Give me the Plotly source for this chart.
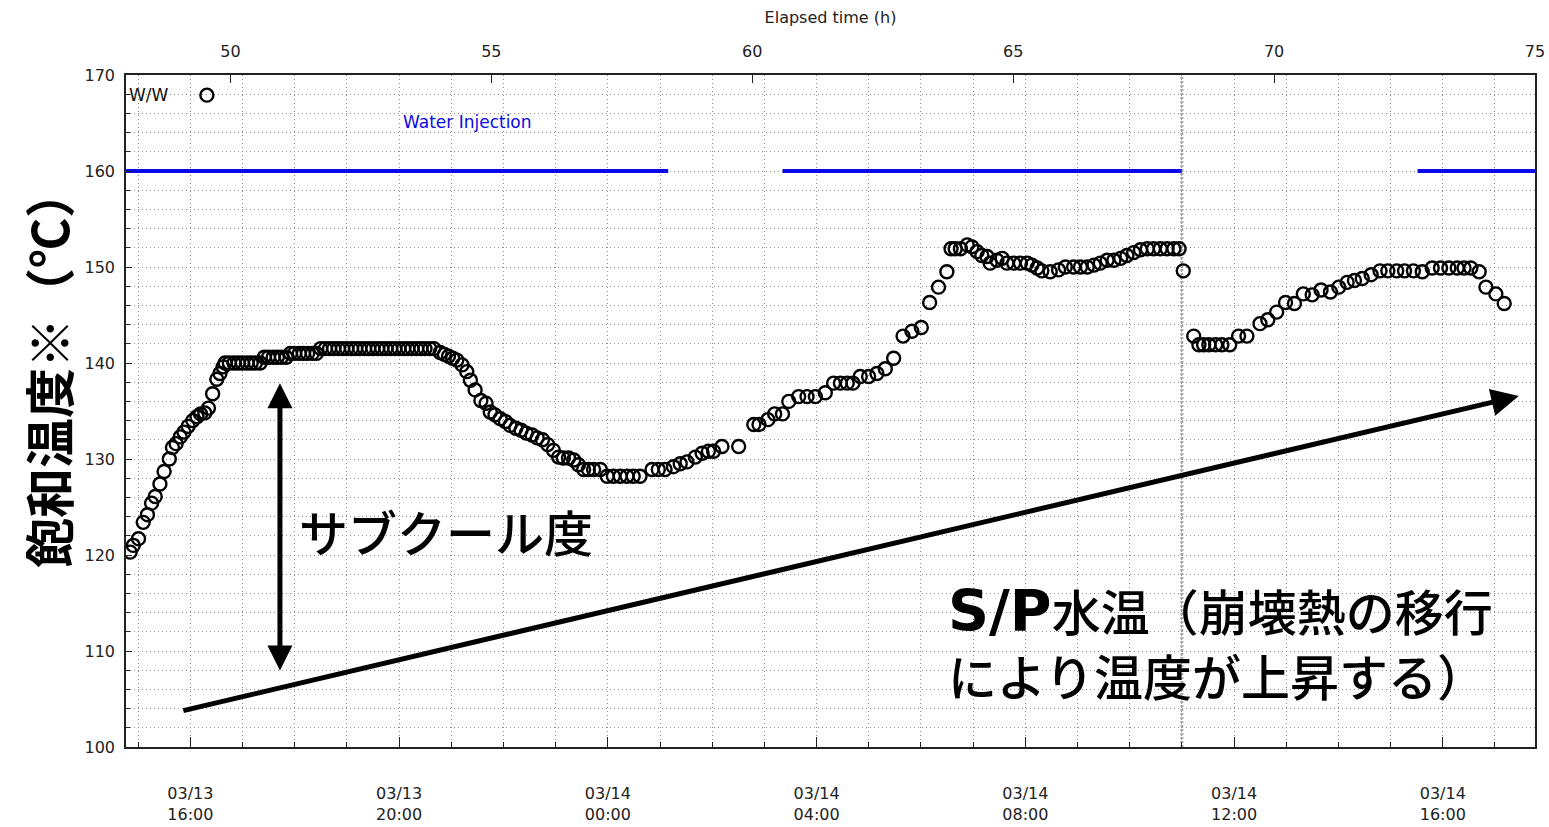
import pandas as pd
import plotly.graph_objects as go

# Reference instant for elapsed time (h = 0)
T0 = pd.Timestamp("2011-03-11 14:46")

# Saturation temperature samples: elapsed hours and °C
elapsed_h = [
    48.08, 48.14, 48.24, 48.33, 48.41, 48.49, 48.56, 48.65, 48.73, 48.83,
    48.89, 48.96, 49.04, 49.11, 49.19, 49.28, 49.36, 49.43, 49.51, 49.58,
    49.66, 49.74, 49.80, 49.86,
    49.90, 49.98, 50.07, 50.15, 50.23, 50.32, 50.40, 50.48, 50.57,
    50.65, 50.73, 50.82, 50.90, 50.98, 51.07,
    51.15, 51.23, 51.32, 51.40, 51.48, 51.57, 51.65,
    51.73, 51.82, 51.90, 51.98, 52.07, 52.15, 52.23, 52.32, 52.40, 52.48,
    52.57, 52.65, 52.73, 52.82, 52.90, 52.98, 53.07, 53.15, 53.23, 53.32,
    53.40, 53.48, 53.57, 53.65, 53.73, 53.82, 53.90,
    54.02, 54.10, 54.18, 54.26, 54.34, 54.44, 54.53, 54.60, 54.69, 54.80,
    54.90, 54.98, 55.07, 55.17, 55.27, 55.36, 55.47, 55.57, 55.67, 55.78,
    55.88, 55.98, 56.08, 56.19, 56.29, 56.38, 56.48, 56.58, 56.67, 56.77,
    56.86, 56.96, 57.09, 57.22, 57.34, 57.47, 57.60, 57.72, 57.85, 58.08,
    58.20, 58.33, 58.49, 58.62, 58.75, 58.91, 59.04, 59.16, 59.26, 59.42,
    59.74, 60.03, 60.13, 60.30, 60.43, 60.58, 60.70, 60.89, 61.05, 61.21,
    61.40, 61.56, 61.69, 61.82, 61.93, 62.07, 62.23, 62.39, 62.55, 62.71,
    62.89, 63.06, 63.24, 63.40, 63.57, 63.73, 63.81, 63.89, 63.99, 64.12,
    64.21, 64.31, 64.40, 64.50, 64.56, 64.69, 64.79, 64.88, 65.01, 65.14,
    65.27, 65.36, 65.46, 65.55, 65.71, 65.87, 66.00, 66.16, 66.29, 66.42,
    66.55, 66.67, 66.80, 66.93, 67.06, 67.18, 67.31, 67.44, 67.57, 67.69,
    67.82, 67.95, 68.08, 68.18, 68.26, 68.46, 68.56, 68.65, 68.75, 68.88,
    69.00, 69.15, 69.32, 69.48, 69.73, 69.88, 70.05, 70.22, 70.39, 70.56,
    70.73, 70.90, 71.08, 71.24, 71.40, 71.54, 71.69, 71.86, 72.03, 72.18,
    72.35, 72.50, 72.67, 72.84, 73.03, 73.19, 73.35, 73.51, 73.64, 73.77,
    73.93, 74.06, 74.25, 74.41,
]
sat_temp = [
    120.3, 121.0, 121.7, 123.4, 124.2, 125.4, 126.1, 127.4, 128.7, 130.0,
    131.2, 131.6, 132.3, 132.8, 133.4, 134.0, 134.4, 134.7, 134.8, 135.3,
    136.8, 138.3, 138.9, 139.6,
    140.0, 140.0, 140.0, 140.0, 140.0, 140.0, 140.0, 140.0, 140.0,
    140.6, 140.6, 140.6, 140.6, 140.6, 140.6,
    141.0, 141.0, 141.0, 141.0, 141.0, 141.0, 141.0,
    141.5, 141.5, 141.5, 141.5, 141.5, 141.5, 141.5, 141.5, 141.5, 141.5,
    141.5, 141.5, 141.5, 141.5, 141.5, 141.5, 141.5, 141.5, 141.5, 141.5,
    141.5, 141.5, 141.5, 141.5, 141.5, 141.5, 141.5,
    141.1, 140.9, 140.7, 140.5, 140.3, 139.8, 139.1, 138.2, 137.2, 136.1,
    135.8, 134.9, 134.6, 134.2, 133.9, 133.5, 133.2, 133.0, 132.7, 132.5,
    132.2, 132.0, 131.5, 130.9, 130.2, 130.1, 130.1, 129.9, 129.4, 128.9,
    128.9, 128.9, 128.9, 128.2, 128.2, 128.2, 128.2, 128.2, 128.2, 128.9,
    128.9, 128.9, 129.2, 129.5, 129.7, 130.2, 130.6, 130.8, 130.8, 131.3,
    131.3, 133.6, 133.6, 134.1, 134.7, 134.7, 136.0, 136.5, 136.5, 136.5,
    136.9, 137.9, 137.9, 137.9, 137.9, 138.6, 138.6, 138.9, 139.4, 140.5,
    142.8, 143.3, 143.7, 146.3, 147.9, 149.5, 151.9, 151.9, 151.9, 152.3,
    152.1, 151.6, 151.2, 151.1, 150.4, 150.7, 150.9, 150.4, 150.4, 150.4,
    150.4, 150.2, 149.9, 149.6, 149.5, 149.7, 150.0, 150.0, 150.0, 150.0,
    150.2, 150.4, 150.7, 150.7, 150.9, 151.2, 151.5, 151.8, 151.9, 151.9,
    151.9, 151.9, 151.9, 151.9, 149.6, 142.8, 141.9, 141.9, 141.9, 141.9,
    141.9, 141.9, 142.8, 142.8, 144.1, 144.5, 145.3, 146.3, 146.2, 147.2,
    147.1, 147.6, 147.4, 147.9, 148.4, 148.6, 148.8, 149.2, 149.6, 149.6,
    149.6, 149.6, 149.6, 149.5, 149.9, 149.9, 149.9, 149.9, 149.9, 149.9,
    149.5, 147.9, 147.2, 146.2,
]

# Water injection periods (elapsed hours), drawn as a bar at 160 °C
INJ_START = [48.0, 60.58, 72.75]
INJ_END = [58.39, 68.23, 75.0]
INJ_LEVEL = 160

# Clock-time ticks on the bottom axis
DATE_TICKS = ["2011-03-13 16:00", "2011-03-13 20:00", "2011-03-14 00:00",
              "2011-03-14 04:00", "2011-03-14 08:00", "2011-03-14 12:00",
              "2011-03-14 16:00"]
DATE_LABELS = ["03/13<br>16:00", "03/13<br>20:00", "03/14<br>00:00",
               "03/14<br>04:00", "03/14<br>08:00", "03/14<br>12:00",
               "03/14<br>16:00"]
FIRST_HOUR = "2011-03-13 15:00"
EVENT_TIME = "2011-03-14 11:00"

ELAPSED_TICKS = [50, 55, 60, 65, 70, 75]
X_RANGE = [48, 75]
Y_RANGE = [100, 170]
Y_TICKS = [100, 110, 120, 130, 140, 150, 160, 170]


def hours(ts):
    return (pd.Timestamp(ts) - T0) / pd.Timedelta(hours=1)


date_tickvals = [hours(t) for t in DATE_TICKS]

inj_x, inj_y = [], []
for s, e in zip(INJ_START, INJ_END):
    inj_x += [s, e, None]
    inj_y += [INJ_LEVEL, INJ_LEVEL, None]

TICK_FONT = dict(family="DejaVu Sans", size=16, color="#222222")
JP = "Noto Sans CJK JP"
AXIS = "#222222"
GRID_COLOR = "#8f8f8f"
GRID_DASH = "1px,3px"

fig = go.Figure()

fig.add_trace(go.Scatter(
    x=elapsed_h, y=sat_temp, mode="markers", showlegend=False,
    marker=dict(symbol="circle-open", size=13, color="black",
                line=dict(width=2.4)),
    xaxis="x", yaxis="y",
))

fig.add_trace(go.Scatter(
    x=inj_x, y=inj_y, mode="lines", showlegend=False,
    line=dict(color="#0a0ae6", width=4),
    xaxis="x2", yaxis="y",
))

fig.update_layout(
    width=1549, height=827,
    margin=dict(l=126, r=14, t=75, b=80),
    paper_bgcolor="white", plot_bgcolor="white",
    xaxis=dict(
        range=X_RANGE, tickmode="array", tickvals=date_tickvals,
        ticktext=DATE_LABELS, ticks="inside", ticklen=10, tickwidth=1.2,
        tickcolor=AXIS, tickfont=TICK_FONT, ticklabelstandoff=31,
        showline=True, linecolor=AXIS, linewidth=1.5, mirror=False,
        zeroline=False, automargin=False,
        showgrid=True, gridcolor=GRID_COLOR, gridwidth=1, griddash=GRID_DASH,
        minor=dict(tick0=hours(FIRST_HOUR), dtick=1, ticks="inside",
                   ticklen=5, tickcolor=AXIS, showgrid=True,
                   gridcolor=GRID_COLOR, griddash=GRID_DASH, gridwidth=1),
    ),
    xaxis2=dict(
        range=X_RANGE, overlaying="x", side="top", anchor="y",
        tickmode="array", tickvals=ELAPSED_TICKS, ticks="inside",
        ticklen=8, tickwidth=1.2, tickcolor=AXIS, tickfont=TICK_FONT,
        ticklabelstandoff=10, showgrid=False, zeroline=False,
        showline=True, linecolor=AXIS, linewidth=1.5, automargin=False,
        title=dict(text="Elapsed time (h)", font=TICK_FONT, standoff=14),
    ),
    yaxis=dict(
        range=Y_RANGE, tickmode="array", tickvals=Y_TICKS, ticks="inside",
        ticklen=6, tickwidth=1.2, tickcolor=AXIS, tickfont=TICK_FONT,
        ticklabelstandoff=6, showline=True, linecolor=AXIS,
        linewidth=1.5, mirror=True, zeroline=False, automargin=False,
        showgrid=True, gridcolor=GRID_COLOR, gridwidth=1, griddash=GRID_DASH,
        minor=dict(dtick=2, ticks="inside", ticklen=4, tickcolor=AXIS,
                   showgrid=True, gridcolor=GRID_COLOR, griddash=GRID_DASH,
                   gridwidth=1),
    ),
)

# Event marker: heavier dotted vertical line
ev = hours(EVENT_TIME)
fig.add_shape(type="line", xref="x", yref="y", x0=ev, x1=ev,
              y0=Y_RANGE[0], y1=Y_RANGE[1],
              line=dict(color="#a8a8a8", width=3, dash="2px,2px"),
              layer="below")

# Legend key "W/W ○"
fig.add_annotation(x=48.02, y=167.9, xref="x", yref="y", text="W/W",
                   showarrow=False, xanchor="left", yanchor="middle",
                   font=dict(family="DejaVu Sans", size=17, color="#111111"))
fig.add_shape(type="circle", xref="x", yref="y", xsizemode="pixel",
              ysizemode="pixel", xanchor=49.55, yanchor=167.9,
              x0=-6.5, x1=6.5, y0=-6.5, y1=6.5,
              line=dict(color="black", width=2.4))

fig.add_annotation(x=54.54, y=165.1, xref="x", yref="y",
                   text="Water Injection", showarrow=False,
                   font=dict(family="DejaVu Sans", size=17, color="#0a0ae6"))

# Vertical title
fig.add_annotation(x=-0.056, y=0.564, xref="paper", yref="paper",
                   text="<b>飽和温度※（℃）</b>", textangle=-90,
                   showarrow=False, xanchor="center", yanchor="middle",
                   font=dict(family=JP, size=50, color="black"))

# Subcooling double arrow and label
fig.add_annotation(x=50.95, y=137.9, ax=50.95, ay=107.8, xref="x", yref="y",
                   axref="x", ayref="y", text="", showarrow=True,
                   arrowside="end+start", arrowhead=2, startarrowhead=2,
                   arrowsize=1, startarrowsize=1, arrowwidth=5,
                   arrowcolor="black", standoff=0, startstandoff=0)
fig.add_annotation(x=51.28, y=122.6, xref="x", yref="y", text="サブクール度",
                   showarrow=False, xanchor="left", yanchor="middle",
                   font=dict(family=JP, size=49, color="black", weight=500))

# Suppression pool temperature trend arrow and its two-line label
fig.add_annotation(x=74.69, y=136.56, ax=49.07, ay=103.75, xref="x",
                   yref="y", axref="x", ayref="y", text="", showarrow=True,
                   arrowhead=2, arrowsize=1.1, arrowwidth=5,
                   arrowcolor="black", standoff=0)
SP_FONT = dict(family=JP, size=49, color="black", weight=500)
fig.add_annotation(
    x=63.72, y=114.3, xref="x", yref="y",
    text=("<span style=\"font-family:'DejaVu Sans';font-weight:bold;"
          "font-size:57px\">S/P</span>水温（崩壊熱の移行"),
    showarrow=False, xanchor="left", yanchor="middle", font=SP_FONT)
fig.add_annotation(
    x=63.72, y=107.6, xref="x", yref="y", text="により温度が上昇する）",
    showarrow=False, xanchor="left", yanchor="middle", font=SP_FONT)

fig.write_html("out.html")
